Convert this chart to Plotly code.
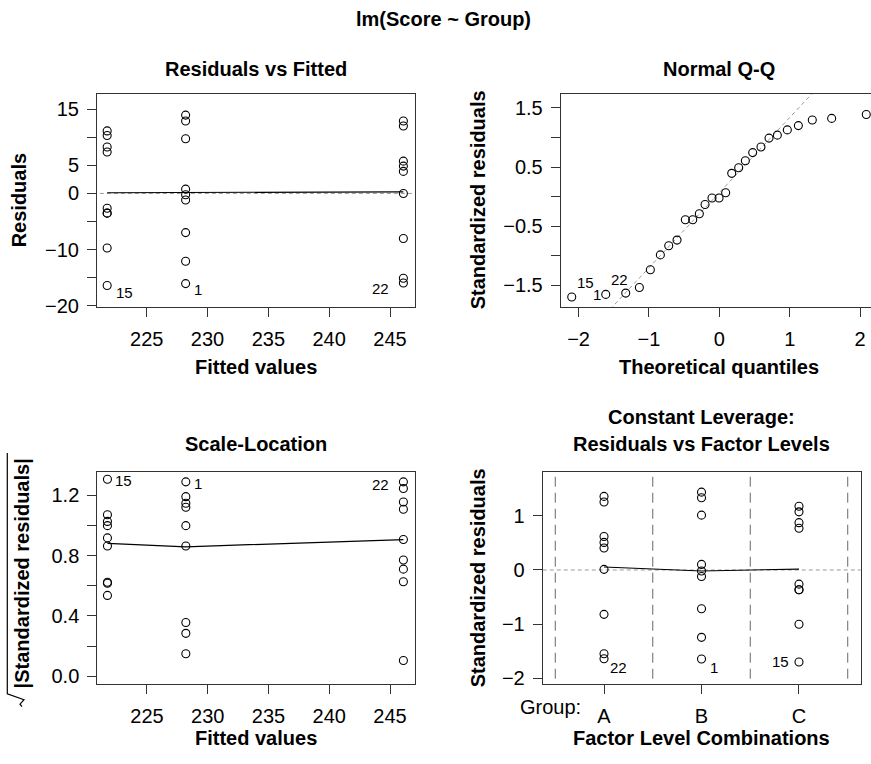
import plotly.graph_objects as go

W, H = 871, 764

# ---------------- data ----------------
group_names = ["A", "B", "C"]
fitted_A, fitted_B, fitted_C = 246.1, 228.2, 221.75

resid_A = [12.88, 12.0, 5.74, 4.86, 3.92, 0.0, -8.02, -15.1, -15.92]
resid_B = [13.93, 12.88, 9.72, 0.76, -0.23, -1.17, -6.97, -12.06, -16.04]
resid_C = [11.12, 10.30, 8.25, 7.37, -2.63, -3.51, -3.51, -9.72, -16.39]
rvf_smooth_x = [221.75, 228.2, 246.1]
rvf_smooth_y = [0.12, 0.17, 0.29]

qq_theoretical = [-2.097, -1.614, -1.330, -1.136, -0.980, -0.838, -0.719, -0.601, -0.483,
                  -0.378, -0.284, -0.203, -0.104, -0.004, 0.090, 0.176, 0.275, 0.370,
                  0.474, 0.592, 0.706, 0.824, 0.966, 1.123, 1.321, 1.596, 2.088]
qq_sample = [-1.694, -1.650, -1.628, -1.533, -1.233, -0.983, -0.828, -0.733, -0.389,
             -0.389, -0.289, -0.133, -0.022, -0.022, 0.067, 0.394, 0.489, 0.606,
             0.744, 0.839, 0.989, 1.039, 1.128, 1.200, 1.294, 1.322, 1.389]
qq_line_x = [-2.3, 2.2]
qq_line_y = [-2.85, 2.86]

sl_A = [1.288, 1.244, 1.155, 1.107, 0.906, 0.771, 0.710, 0.627, 0.105]
sl_B = [1.288, 1.190, 1.146, 1.120, 0.998, 0.863, 0.357, 0.285, 0.150]
sl_C = [1.305, 1.070, 1.026, 0.998, 0.917, 0.863, 0.623, 0.617, 0.536]
sl_smooth_x = [221.75, 228.2, 246.1]
sl_smooth_y = [0.880, 0.858, 0.906]

fl_A = [1.358, 1.255, 0.618, 0.509, 0.406, 0.012, -0.818, -1.545, -1.636]
fl_B = [1.436, 1.333, 1.012, 0.103, -0.018, -0.121, -0.715, -1.242, -1.642]
fl_C = [1.176, 1.073, 0.873, 0.770, -0.261, -0.364, -0.364, -1.0, -1.697]
fl_pos = [1, 2, 3]
fl_smooth_y = [0.055, -0.018, 0.018]
fl_separators = [0.5, 1.5, 2.5, 3.5]

id_labels = {"A": "22", "B": "1", "C": "15"}

# ---------------- styling ----------------
FONT = "Liberation Sans, Arial, Helvetica, sans-serif"
AX = "#333333"
TS = 20
marker = dict(symbol="circle-open", size=8, color="black", line=dict(width=1.1, color="black"))


def px_x(p):
    return p / W


def px_y(p):
    return 1 - p / H


fig = go.Figure()


def pts(x, y, xa, ya):
    fig.add_trace(go.Scatter(x=x, y=y, mode="markers", marker=marker, xaxis=xa, yaxis=ya,
                             showlegend=False, hoverinfo="skip"))


def line(x, y, xa, ya, color="black", dash="solid", width=1.2):
    fig.add_trace(go.Scatter(x=x, y=y, mode="lines", line=dict(color=color, dash=dash, width=width),
                             xaxis=xa, yaxis=ya, showlegend=False, hoverinfo="skip"))


# Panel 1: Residuals vs Fitted
line([220.0, 248.0], [0, 0], "x", "y", color="#9a9a9a", dash="4px,3px", width=1)
for f, r in [(fitted_A, resid_A), (fitted_B, resid_B), (fitted_C, resid_C)]:
    pts([f] * len(r), r, "x", "y")
line(rvf_smooth_x, rvf_smooth_y, "x", "y")

# Panel 2: Normal Q-Q
line(qq_line_x, qq_line_y, "x2", "y2", color="#9a9a9a", dash="4px,3px", width=1)
pts(qq_theoretical, qq_sample, "x2", "y2")

# Panel 3: Scale-Location
for f, r in [(fitted_A, sl_A), (fitted_B, sl_B), (fitted_C, sl_C)]:
    pts([f] * len(r), r, "x3", "y3")
line(sl_smooth_x, sl_smooth_y, "x3", "y3")

# Panel 4: Residuals vs Factor Levels
line([0.3, 3.7], [0, 0], "x4", "y4", color="#9a9a9a", dash="4px,3px", width=1)
for s in fl_separators:
    line([s, s], [-2.3, 2.0], "x4", "y4", color="#6a6a6a", dash="10px,6px", width=1)
for p, r in zip(fl_pos, [fl_A, fl_B, fl_C]):
    pts([p] * len(r), r, "x4", "y4")
line(fl_pos, fl_smooth_y, "x4", "y4")

# ---------------- axes ----------------
def axis(domain, rng, tickvals, ticktext, anchor, mirror=True, standoff=4):
    return dict(domain=domain, range=rng, tickvals=tickvals, ticktext=ticktext, anchor=anchor,
                showgrid=False, zeroline=False, showline=True, mirror=mirror, linecolor=AX,
                linewidth=1, ticks="outside", ticklen=9, tickcolor=AX, tickwidth=1,
                tickfont=dict(family=FONT, size=TS, color="black"), ticklabelstandoff=standoff,
                fixedrange=True)


xt = [225, 230, 235, 240, 245]
xtt = ["225", "230", "235", "240", "245"]
P1 = dict(l=97, r=415, t=95, b=311)
P2 = dict(l=560.7, r=W, t=95, b=311)
P3 = dict(l=97.3, r=415, t=478.3, b=693.3)
P4 = dict(l=542.7, r=860.7, t=478.3, b=693.3)

fig.update_layout(
    xaxis=axis([px_x(P1["l"]), px_x(P1["r"])], [220.915, 247.055], xt, xtt, "y", standoff=5),
    yaxis=axis([px_y(P1["b"]), px_y(P1["t"])], [-20.19, 17.73],
               [-20, -15, -10, -5, 0, 5, 10, 15], ["−20", "", "−10", "", "0", "5", "", "15"], "x"),
    xaxis2=axis([px_x(P2["l"]), 1.0], [-2.254, 2.155], [-2, -1, 0, 1, 2],
                ["−2", "−1", "0", "1", "2"], "y2", standoff=5),
    yaxis2=axis([px_y(P2["b"]), px_y(P2["t"])], [-1.862, 1.738],
                [-1.5, -1, -0.5, 0, 0.5, 1, 1.5], ["−1.5", "", "−0.5", "", "0.5", "", "1.5"], "x2",
                mirror=False),
    xaxis3=axis([px_x(P3["l"]), px_x(P3["r"])], [220.915, 247.055], xt, xtt, "y3", standoff=5),
    yaxis3=axis([px_y(P3["b"]), px_y(P3["t"])], [-0.052, 1.353],
                [0, 0.2, 0.4, 0.6, 0.8, 1.0, 1.2], ["0.0", "", "0.4", "", "0.8", "", "1.2"], "x3"),
    xaxis4=axis([px_x(P4["l"]), px_x(P4["r"])], [0.371, 3.633], fl_pos, group_names, "y4", standoff=5),
    yaxis4=axis([px_y(P4["b"]), px_y(P4["t"])], [-2.107, 1.807],
                [-2, -1, 0, 1], ["−2", "−1", "0", "1"], "x4"),
    width=W, height=H, margin=dict(l=0, r=0, t=0, b=0),
    plot_bgcolor="white", paper_bgcolor="white",
    font=dict(family=FONT, color="black"),
)

# ---------------- text ----------------
ann = []


def text(s, x, y, size=TS, bold=True, angle=0):
    ann.append(dict(text=f"<b>{s}</b>" if bold else s, x=px_x(x), y=px_y(y), xref="paper", yref="paper",
                    showarrow=False, textangle=angle, xanchor="center", yanchor="middle",
                    font=dict(family=FONT, size=size, color="black")))


text("lm(Score ~ Group)", 443, 19)
text("Residuals vs Fitted", 256, 70)
text("Normal Q-Q", 719.3, 70)
text("Fitted values", 256, 372)
text("Theoretical quantiles", 719.3, 372)
text("Residuals", 19, 203, angle=-90)
text("Standardized residuals", 478, 203, angle=-90)
text("Scale-Location", 256, 450)
text("Constant Leverage:", 701.7, 423)
text("Residuals vs Factor Levels", 701.7, 450)
text("Fitted values", 256, 748)
text("Factor Level Combinations", 701.7, 748)
text("|Standardized residuals|", 22, 581, angle=-90)
text("Standardized residuals", 478, 586, angle=-90)
text("Group:", 550, 716, bold=False)


def idlab(s, x, y, xr, yr, anchor, dx, dy):
    ann.append(dict(text=s, x=x, y=y, xref=xr, yref=yr, showarrow=False, xanchor=anchor,
                    yanchor="middle", xshift=dx, yshift=dy,
                    font=dict(family=FONT, size=15, color="black")))


# panel 1
idlab(id_labels["C"], fitted_C, min(resid_C), "x", "y", "left", 7, -7)
idlab(id_labels["B"], fitted_B, min(resid_B), "x", "y", "left", 6, -6)
idlab(id_labels["A"], fitted_A, min(resid_A), "x", "y", "right", -12, -6)
# panel 2
idlab(id_labels["C"], qq_theoretical[0], qq_sample[0], "x2", "y2", "left", 3, 14)
idlab(id_labels["B"], qq_theoretical[1], qq_sample[1], "x2", "y2", "right", -3, 0)
idlab(id_labels["A"], qq_theoretical[2], qq_sample[2], "x2", "y2", "center", -6, 14)
# panel 3
idlab(id_labels["C"], fitted_C, max(sl_C), "x3", "y3", "left", 6, -1)
idlab(id_labels["B"], fitted_B, max(sl_B), "x3", "y3", "left", 6, -2)
idlab(id_labels["A"], fitted_A, max(sl_A), "x3", "y3", "right", -12, -3)
# panel 4
idlab(id_labels["A"], fl_pos[0], min(fl_A), "x4", "y4", "left", 4, -9)
idlab(id_labels["B"], fl_pos[1], min(fl_B), "x4", "y4", "left", 6, -8)
idlab(id_labels["C"], fl_pos[2], min(fl_C), "x4", "y4", "right", -8, 0)

fig.update_layout(annotations=ann)

# radical sign for the sqrt(|Standardized residuals|) label
rad = [(7.3, 459), (7.3, 703), (24, 709), (20, 713.5), (22, 716)]
path = "M " + " L ".join(f"{px_x(a):.5f},{px_y(b):.5f}" for a, b in rad)
fig.add_shape(type="path", path=path, xref="paper", yref="paper",
              line=dict(color="black", width=1.2))

fig.write_html("out.html")
